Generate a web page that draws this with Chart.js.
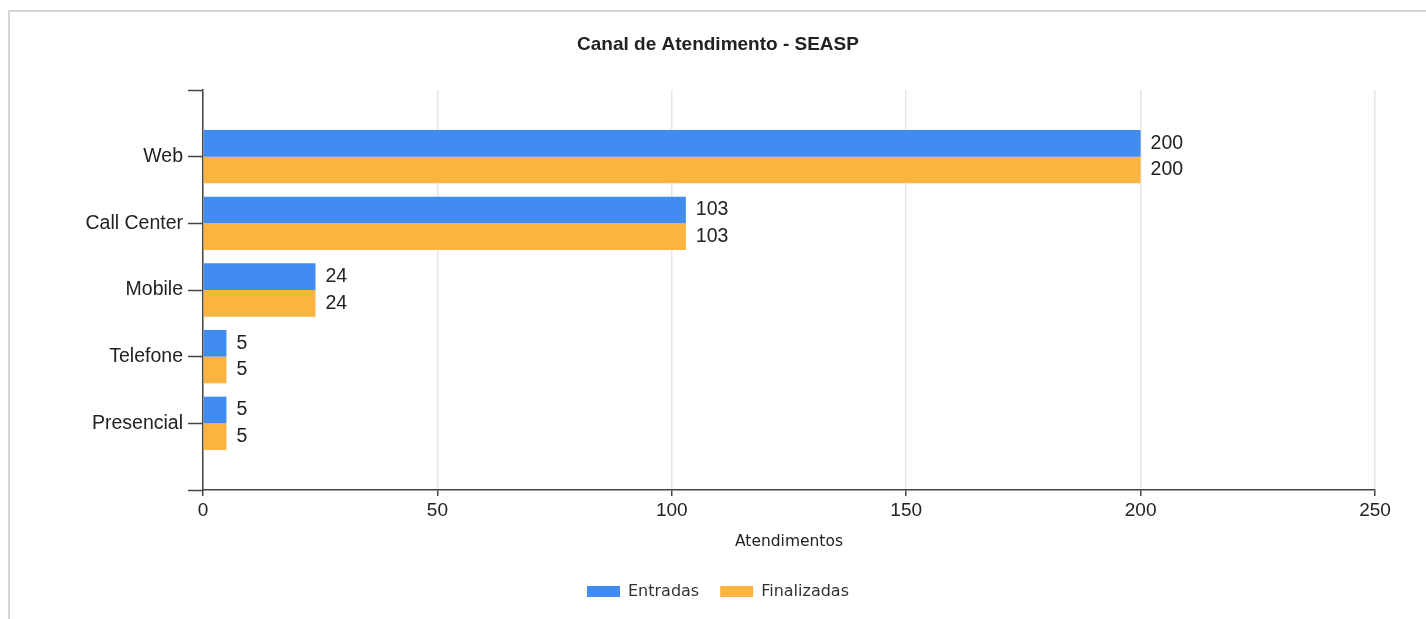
<!DOCTYPE html>
<html>
<head>
<meta charset="utf-8">
<title>Canal de Atendimento - SEASP</title>
<script src="https://cdn.jsdelivr.net/npm/chart.js@4"></script>
<style>
  html, body { margin: 0; padding: 0; background: #fff; }
  #frame {
    position: absolute;
    left: 8px;
    top: 10px;
    width: 1418px;
    height: 609px;
    border-top: 2px solid #d6d6d6;
    border-left: 2px solid #d6d6d6;
  }
  #chart { display: block; }
</style>
</head>
<body>
<div id="frame">
  <canvas id="chart" width="1416" height="607"></canvas>
</div>
<script>
const categories = ["Web", "Call Center", "Mobile", "Telefone", "Presencial"];
const entradas = [200, 103, 24, 5, 5];
const finalizadas = [200, 103, 24, 5, 5];
const xTicks = [0, 50, 100, 150, 200, 250];

const blue = "#418cf0";
const orange = "#fcb441";
const labelFont = "'Liberation Sans', Arial, sans-serif";
const smallFont = "'DejaVu Sans', Verdana, sans-serif";

// blank slot above and below so the categories sit one full step from the axis ends
const pad = arr => [null, ...arr, null];

// value printed just past the end of each bar
const barValues = {
  id: "barValues",
  afterDatasetsDraw(chart) {
    const ctx = chart.ctx;
    ctx.save();
    ctx.font = "19.5px " + labelFont;
    ctx.fillStyle = "#222";
    ctx.textAlign = "left";
    ctx.textBaseline = "middle";
    chart.data.datasets.forEach((ds, i) => {
      chart.getDatasetMeta(i).data.forEach((bar, j) => {
        const v = ds.data[j];
        if (v === null || v === undefined) return;
        ctx.fillText(String(v), bar.x + 10, bar.y);
      });
    });
    ctx.restore();
  }
};

new Chart(document.getElementById("chart"), {
  type: "bar",
  data: {
    labels: pad(categories).map(c => c === null ? "" : c),
    datasets: [
      { label: "Entradas", data: pad(entradas), backgroundColor: blue },
      { label: "Finalizadas", data: pad(finalizadas), backgroundColor: orange }
    ]
  },
  options: {
    indexAxis: "y",
    responsive: false,
    animation: false,
    layout: { padding: { left: 0, right: 0, top: 0, bottom: 9.5 } },
    datasets: { bar: { categoryPercentage: 0.8, barPercentage: 1 } },
    scales: {
      y: {
        type: "category",
        offset: false,
        afterFit(scale) { scale.width = 193; },
        grid: {
          offset: false,
          drawOnChartArea: false,
          drawTicks: true,
          tickLength: 15,
          tickColor: "#444",
          tickWidth: 1.5
        },
        border: { display: true, color: "#444", width: 1.5 },
        ticks: {
          padding: 5,
          color: "#222",
          font: { family: labelFont, size: 19.5 }
        }
      },
      // empty strip on the right, keeps the plot short of the edge
      // while title and legend stay centred on the whole canvas
      spacer: {
        type: "linear",
        position: "right",
        display: true,
        afterFit(scale) { scale.width = 51; },
        grid: { display: false },
        border: { display: false },
        ticks: { display: false }
      },
      x: {
        min: 0,
        max: 250,
        afterFit(scale) { scale.height = 72.5; },
        afterBuildTicks(scale) { scale.ticks = xTicks.map(v => ({ value: v })); },
        grid: {
          color: "#e6e6e6",
          lineWidth: 1.5,
          tickLength: 6,
          tickColor: "#444",
          tickWidth: 1.5
        },
        border: { display: true, color: "#444", width: 1.5 },
        ticks: {
          padding: 3,
          color: "#222",
          font: { family: labelFont, size: 19 }
        },
        title: {
          display: true,
          text: "Atendimentos",
          color: "#222",
          padding: { top: 0, bottom: 11 },
          font: { family: smallFont, size: 15.5 }
        }
      }
    },
    plugins: {
      title: {
        display: true,
        text: "Canal de Atendimento - SEASP",
        color: "#222",
        padding: { top: 21.6, bottom: 33.6 },
        font: { family: labelFont, size: 19, weight: "bold" }
      },
      legend: {
        display: true,
        position: "bottom",
        labels: {
          boxWidth: 33,
          boxHeight: 11,
          padding: 21,
          color: "#333",
          font: { family: smallFont, size: 16 }
        }
      },
      tooltip: { enabled: false }
    }
  },
  plugins: [barValues]
});
</script>
</body>
</html>
